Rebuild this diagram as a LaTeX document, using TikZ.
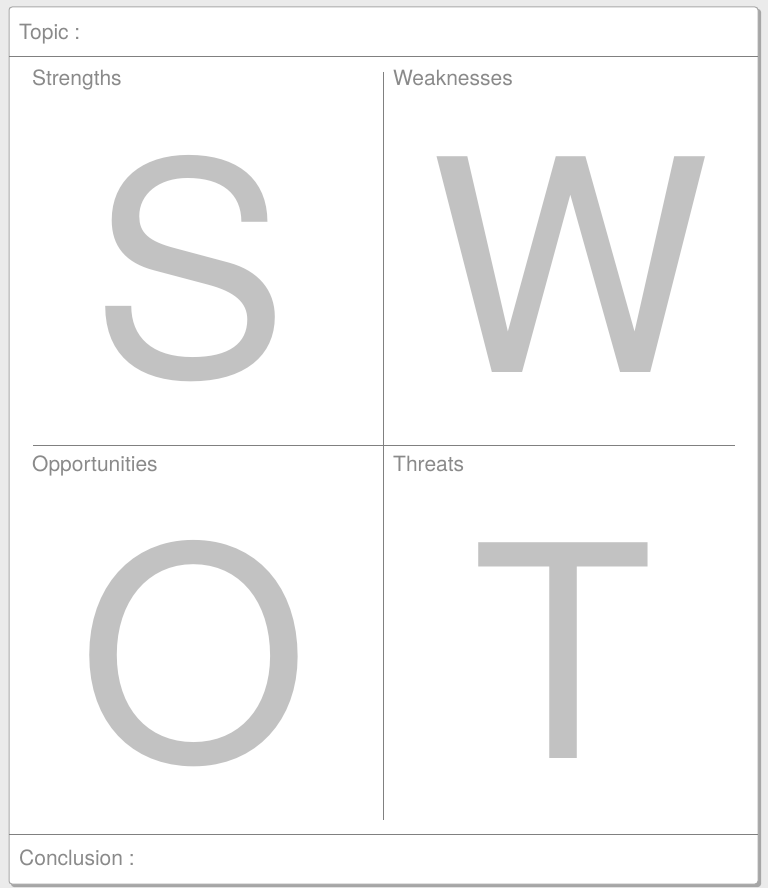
\documentclass[tikz,border=0pt]{standalone}
\usepackage{fontspec}
\setmainfont{TeX Gyre Heros}
\definecolor{bg}{HTML}{EBEBEB}
\definecolor{lbl}{HTML}{8A8A8A}
\definecolor{big}{HTML}{C2C2C2}
\definecolor{rule}{HTML}{808080}
\definecolor{frame}{HTML}{A8A8A8}
\begin{document}
\begin{tikzpicture}[x=1pt,y=-1pt,
  lbltext/.style={anchor=base west,inner sep=0pt,text=lbl,font=\fontsize{21}{21}\selectfont},
  bigletter/.style={anchor=base,inner sep=0pt,text=big,font=\fontsize{296}{296}\selectfont},
  divider/.style={draw=rule,line width=1pt}]
\fill[bg] (0,0) rectangle (768,888);
\useasboundingbox (0,0) rectangle (768,888);
\fill[black!35,rounded corners=3pt] (11,9) rectangle (761,887);
\filldraw[fill=white,draw=frame,line width=1pt,rounded corners=3pt] (9,7) rectangle (758,884);
\coordinate (tl) at (9,57); \coordinate (tr) at (758,57);
\coordinate (bl) at (9,834); \coordinate (br) at (758,834);
\coordinate (vt) at (383,72); \coordinate (vb) at (383,820);
\coordinate (hl) at (33,445); \coordinate (hr) at (735,445);
\draw[divider] (tl) -- (tr);
\draw[divider] (bl) -- (br);
\draw[divider] (vt) -- (vb);
\draw[divider] (hl) -- (hr);
\node[lbltext] (topic) at (19,40) {Topic :};
\node[lbltext] (str) at (32,86) {Strengths};
\node[lbltext] (weak) at (393,86) {Weaknesses};
\node[lbltext] (opp) at (32,471) {Opportunities};
\node[lbltext] (thr) at (393,471) {Threats};
\node[lbltext] (conc) at (19,865) {Conclusion :};
\node[bigletter] (S) at (190,376) {S};
\node[bigletter] (W) at (570,372) {W};
\node[bigletter] (O) at (194,761) {O};
\node[bigletter] (T) at (563,758) {T};
\end{tikzpicture}
\end{document}
